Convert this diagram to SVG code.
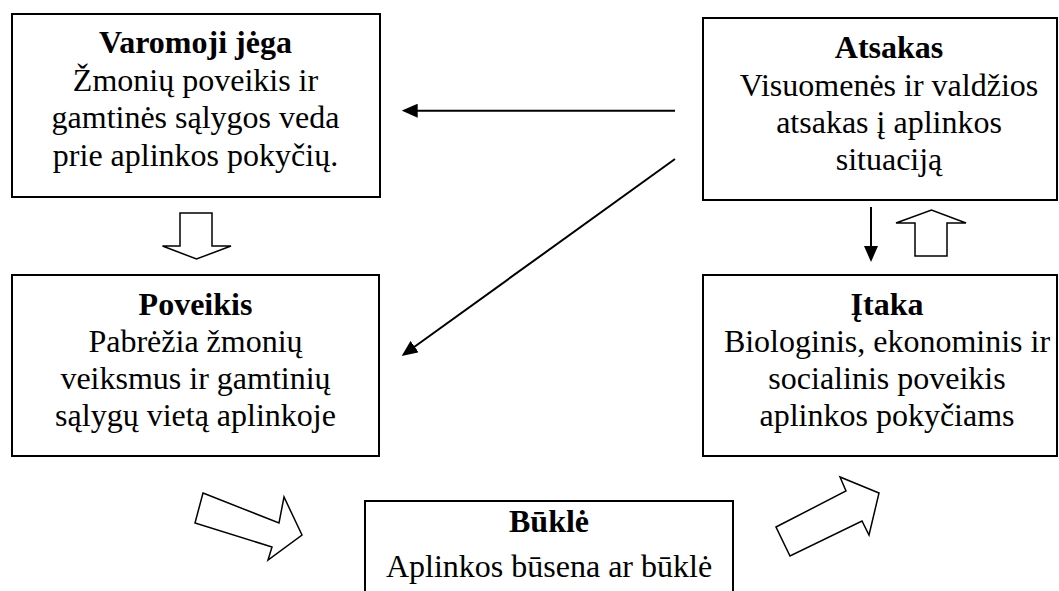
<svg xmlns="http://www.w3.org/2000/svg" width="1059" height="591" viewBox="0 0 1059 591">
<style>
.box{fill:#fff;stroke:#000;stroke-width:2}
.t{font-family:'Liberation Serif','Times New Roman',Times,'DejaVu Serif',serif;font-size:32px;fill:#000;text-anchor:middle}
.b{font-weight:bold}
.ln{stroke:#000;stroke-width:2;fill:none}
.hollow{fill:#fff;stroke:#000;stroke-width:1.5;stroke-linejoin:miter}
</style>
<defs>
<marker id="ah" viewBox="0 0 16 14" refX="13" refY="7" markerWidth="16" markerHeight="14" markerUnits="userSpaceOnUse" orient="auto">
<path d="M0,0 L16,7 L0,14 z" fill="#000"/>
</marker>
</defs>
<rect width="1059" height="591" fill="#fff"/>
<g id="varomoji">
<rect class="box" x="12" y="14" width="368" height="183"/>
<text class="t b" x="195.5" y="53" font-family="Liberation Serif, serif">Varomoji jėga</text>
<text class="t" x="195.5" y="91">Žmonių poveikis ir</text>
<text class="t" x="195.5" y="128">gamtinės sąlygos veda</text>
<text class="t" x="195.5" y="166">prie aplinkos pokyčių.</text>
</g>
<g id="atsakas">
<rect class="box" x="703" y="18" width="354" height="182"/>
<text class="t b" x="889" y="58">Atsakas</text>
<text class="t" x="889" y="96">Visuomenės ir valdžios</text>
<text class="t" x="889" y="133">atsakas į aplinkos</text>
<text class="t" x="889" y="170">situaciją</text>
</g>
<g id="poveikis">
<rect class="box" x="12" y="275" width="367" height="181"/>
<text class="t b" x="195.5" y="315">Poveikis</text>
<text class="t" x="195.5" y="352">Pabrėžia žmonių</text>
<text class="t" x="195.5" y="389">veiksmus ir gamtinių</text>
<text class="t" x="195.5" y="426">sąlygų vietą aplinkoje</text>
</g>
<g id="itaka">
<rect class="box" x="703" y="275" width="354" height="181"/>
<text class="t b" x="887" y="315">Įtaka</text>
<text class="t" x="887" y="352">Biologinis, ekonominis ir</text>
<text class="t" x="887" y="389">socialinis poveikis</text>
<text class="t" x="887" y="426">aplinkos pokyčiams</text>
</g>
<g id="bukle">
<rect class="box" x="365" y="501" width="368" height="120"/>
<text class="t b" x="549" y="532">Būklė</text>
<text class="t" x="549" y="577">Aplinkos būsena ar būklė</text>
</g>
<g id="connectors">
<line class="ln" x1="675" y1="110.7" x2="404.7" y2="110.7" marker-end="url(#ah)"/>
<line class="ln" x1="675" y1="159" x2="404.1" y2="354.2" marker-end="url(#ah)"/>
<line class="ln" x1="871" y1="207" x2="871" y2="259" marker-end="url(#ah)"/>
<polygon class="hollow" points="180,213 212,213 212,246 231,246 196.5,259 162.5,246 180,246"/>
<polygon class="hollow" points="915,256 915,223 896,223 931.5,210 966,223 947,223 947,256"/>
<polygon class="hollow" points="203,493 279,523 284,497 302,535 268,560 272,547 195,523"/>
<polygon class="hollow" points="776,527 846,491 840,477 879,493 869,535 862,521 790,556"/>
</g>
</svg>
